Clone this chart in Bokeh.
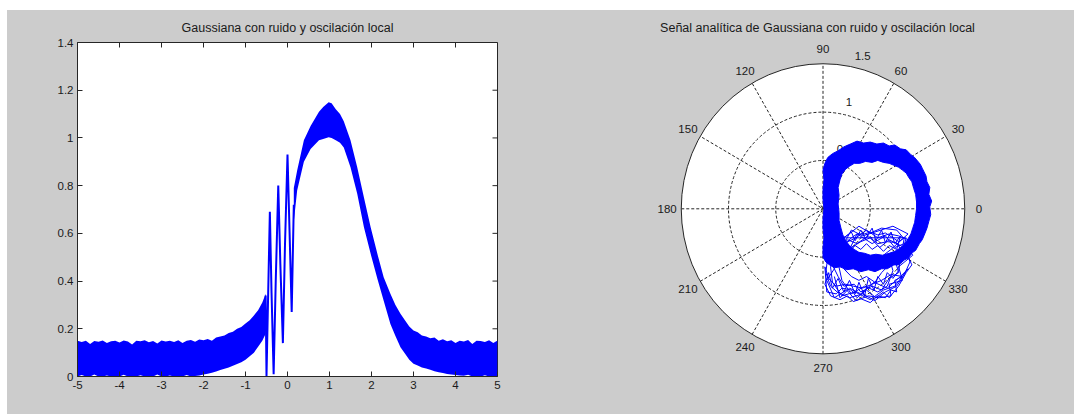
import numpy as np
from bokeh.plotting import figure
from bokeh.layouts import row, column
from bokeh.models import Spacer, FixedTicker, Range1d
from bokeh.embed import file_html
from bokeh.resources import INLINE
from bokeh.core.properties import value

# ---------------- data: left panel (signal vs t) ----------------
tail_t = [-5.0, -4.9, -4.8, -4.7, -4.6, -4.5, -4.4, -4.3, -4.2, -4.1,
          -4.0, -3.9, -3.8, -3.7, -3.6, -3.5, -3.4, -3.3, -3.2, -3.1,
          -3.0, -2.9, -2.8, -2.7, -2.6, -2.5, -2.4, -2.3, -2.2, -2.1,
          -2.0, -1.9, -1.8, -1.7, -1.6, -1.5, -1.4, -1.3, -1.2, -1.1,
          -1.0, -0.9, -0.8, -0.7, -0.6, -0.52]
tail_upper = [0.150, 0.145, 0.150, 0.136, 0.149, 0.146, 0.151, 0.140, 0.148, 0.150,
              0.143, 0.151, 0.147, 0.134, 0.150, 0.148, 0.152, 0.144, 0.149, 0.138,
              0.151, 0.147, 0.150, 0.145, 0.152, 0.140, 0.150, 0.153, 0.146, 0.155,
              0.152, 0.157, 0.150, 0.163, 0.168, 0.172, 0.182, 0.188, 0.200, 0.208,
              0.222, 0.236, 0.256, 0.278, 0.310, 0.347]
tail_lower = [0.0, 0.006, 0.0, 0.0, 0.008, 0.0, 0.0, 0.004, 0.0, 0.0,
              0.0, 0.007, 0.0, 0.0, 0.0, 0.005, 0.0, 0.0, 0.0, 0.008,
              0.0, 0.0, 0.004, 0.0, 0.0, 0.0, 0.006, 0.0, 0.002, 0.004,
              0.008, 0.012, 0.016, 0.021, 0.027, 0.032, 0.038, 0.045, 0.052, 0.060,
              0.070, 0.085, 0.100, 0.125, 0.150, 0.179]

bell_t = [0.15, 0.23, 0.39, 0.55, 0.75, 0.85, 0.98, 1.05, 1.15, 1.25, 1.34, 1.5, 1.66,
          1.82, 1.98, 2.14, 2.29, 2.45, 2.57, 2.69, 2.8, 2.9,
          3.0, 3.1, 3.2, 3.3, 3.4, 3.5, 3.6, 3.7, 3.8, 3.9,
          4.0, 4.1, 4.2, 4.3, 4.4, 4.5, 4.6, 4.7, 4.8, 4.9, 5.0]
bell_upper = [0.79, 0.863, 0.99, 1.05, 1.11, 1.13, 1.15, 1.145, 1.12, 1.10, 1.07, 0.99, 0.877,
              0.75, 0.626, 0.514, 0.416, 0.347, 0.30, 0.263, 0.235, 0.21,
              0.193, 0.185, 0.172, 0.168, 0.160, 0.163, 0.150, 0.156, 0.148, 0.152,
              0.140, 0.150, 0.147, 0.153, 0.136, 0.150, 0.149, 0.145, 0.152, 0.140, 0.151]
bell_lower = [0.65, 0.78, 0.90, 0.954, 0.99, 0.995, 1.003, 1.0, 0.99, 0.98, 0.96, 0.877, 0.766,
              0.626, 0.514, 0.41, 0.318, 0.22, 0.17, 0.123, 0.095, 0.07,
              0.053, 0.046, 0.038, 0.034, 0.028, 0.022, 0.018, 0.015, 0.010, 0.008,
              0.006, 0.004, 0.003, 0.007, 0.0, 0.002, 0.0, 0.005, 0.0, 0.0, 0.0]

osc_t = [-0.52, -0.50, -0.46, -0.42, -0.38, -0.33, -0.28, -0.22, -0.17, -0.11,
         -0.06, 0.0, 0.05, 0.10, 0.15]
osc_s = [0.34, 0.0, 0.35, 0.69, 0.35, 0.01, 0.40, 0.80, 0.47, 0.14,
         0.55, 0.93, 0.60, 0.27, 0.72]

x_ticks = [-5, -4, -3, -2, -1, 0, 1, 2, 3, 4, 5]
x_tick_labels = ["-5", "-4", "-3", "-2", "-1", "0", "1", "2", "3", "4", "5"]
y_ticks = [0, 0.2, 0.4, 0.6, 0.8, 1.0, 1.2, 1.4]
y_tick_labels = ["0", "0.2", "0.4", "0.6", "0.8", "1", "1.2", "1.4"]

# ---------------- data: right panel (analytic signal, real / imag) ----------------
ring_outer_re = [0.00, 0.03, 0.07, 0.12, 0.18, 0.25, 0.32, 0.40, 0.48, 0.55, 0.62, 0.68,
                 0.75, 0.80, 0.86, 0.90, 0.95, 0.98, 1.02, 1.05, 1.08, 1.10, 1.12, 1.14,
                 1.13, 1.15, 1.12, 1.13, 1.10, 1.09, 1.05, 1.03, 0.97, 0.93, 0.88, 0.82,
                 0.76, 0.70, 0.64, 0.57, 0.50, 0.43, 0.36, 0.29, 0.22, 0.16, 0.10, 0.05,
                 0.02, 0.00, 0.01, 0.00, 0.00, 0.01, 0.00, 0.00, 0.01, 0.00]
ring_outer_im = [-0.50, -0.55, -0.58, -0.61, -0.60, -0.63, -0.62, -0.65, -0.63, -0.65, -0.62, -0.62,
                 -0.58, -0.58, -0.53, -0.51, -0.45, -0.43, -0.36, -0.32, -0.25, -0.20, -0.13, -0.06,
                 0.02, 0.08, 0.15, 0.22, 0.28, 0.34, 0.42, 0.46, 0.53, 0.56, 0.61, 0.62,
                 0.66, 0.65, 0.68, 0.67, 0.69, 0.68, 0.70, 0.67, 0.64, 0.60, 0.57, 0.53,
                 0.47, 0.40, 0.30, 0.20, 0.10, 0.00, -0.10, -0.20, -0.30, -0.40]
ring_inner_re = [0.16, 0.17, 0.16, 0.18, 0.20, 0.24, 0.28, 0.33, 0.39, 0.45, 0.52, 0.58,
                 0.64, 0.70, 0.75, 0.80, 0.84, 0.88, 0.91, 0.94, 0.96, 0.98, 0.99, 0.99,
                 0.98, 0.97, 0.95, 0.93, 0.90, 0.86, 0.81, 0.76, 0.70, 0.63, 0.56, 0.50,
                 0.44, 0.38, 0.33, 0.28, 0.24, 0.21, 0.19, 0.17, 0.17]
ring_inner_im = [0.05, 0.14, 0.22, 0.30, 0.36, 0.41, 0.44, 0.47, 0.47, 0.49, 0.48, 0.50,
                 0.48, 0.47, 0.45, 0.43, 0.40, 0.37, 0.32, 0.28, 0.21, 0.15, 0.07, 0.00,
                 -0.07, -0.14, -0.20, -0.26, -0.31, -0.37, -0.41, -0.44, -0.46, -0.48, -0.47, -0.48,
                 -0.46, -0.45, -0.42, -0.38, -0.33, -0.27, -0.20, -0.12, -0.04]

cluster_re = [0.85, 0.78, 0.62, 0.50, 0.38, 0.25, 0.12, 0.05, 0.03, 0.08, 0.15, 0.28, 0.42, 0.55,
              0.66, 0.78, 0.86, 0.92, 0.88, 0.93,
              0.80, 0.70, 0.58, 0.46, 0.35, 0.22, 0.18, 0.10, 0.16, 0.22, 0.33, 0.40, 0.52,
              0.62, 0.70, 0.80, 0.76, 0.84, 0.78,
              0.68, 0.58, 0.50, 0.40, 0.30, 0.28, 0.22, 0.30, 0.38, 0.46, 0.55, 0.62, 0.68,
              0.64, 0.72,
              0.90, 0.74, 0.55, 0.42, 0.30, 0.20, 0.06, 0.12, 0.04, 0.12, 0.25, 0.35, 0.48,
              0.60, 0.72, 0.70, 0.84, 0.80, 0.95, 0.86,
              0.76, 0.66, 0.52, 0.36, 0.26, 0.16, 0.20, 0.30, 0.44, 0.58, 0.68, 0.74, 0.70,
              0.82, 0.88,
              0.22, 0.30, 0.34, 0.40, 0.45, 0.52, 0.56, 0.62, 0.66, 0.72, 0.76, 0.82, 0.78,
              0.70, 0.64, 0.58, 0.52, 0.46, 0.40, 0.34, 0.28, 0.24, 0.30, 0.36, 0.44, 0.50,
              0.58, 0.66, 0.74, 0.80, 0.86,
              0.80, 0.74, 0.68, 0.64, 0.58, 0.54, 0.48, 0.44, 0.38, 0.34, 0.28, 0.22, 0.16,
              0.10, 0.06, 0.02, 0.08, 0.18, 0.26, 0.32, 0.40, 0.50, 0.58, 0.66, 0.72, 0.78,
              0.76, 0.84, 0.72, 0.62, 0.52, 0.42, 0.32, 0.24, 0.14, 0.06, 0.02,
              0.04, 0.14, 0.20, 0.30, 0.36, 0.46, 0.56, 0.64, 0.70, 0.80, 0.88, 0.94,
              0.86, 0.70, 0.60, 0.48, 0.36, 0.26, 0.14, 0.08, 0.10, 0.20, 0.34, 0.50,
              0.64, 0.76, 0.90, 0.82, 0.68, 0.54, 0.40, 0.28, 0.18, 0.12]
cluster_im = [-0.30, -0.22, -0.20, -0.25, -0.18, -0.28, -0.35, -0.50, -0.66, -0.80, -0.86, -0.92,
              -0.88, -0.95, -0.86, -0.80, -0.68, -0.55, -0.42, -0.33,
              -0.28, -0.26, -0.30, -0.22, -0.30, -0.36, -0.48, -0.58, -0.70, -0.80, -0.78,
              -0.86, -0.80, -0.84, -0.72, -0.66, -0.52, -0.45, -0.35,
              -0.34, -0.36, -0.30, -0.34, -0.40, -0.52, -0.62, -0.70, -0.74, -0.70, -0.76,
              -0.66, -0.60, -0.48, -0.42,
              -0.26, -0.18, -0.24, -0.28, -0.22, -0.40, -0.44, -0.62, -0.74, -0.92, -0.84,
              -0.95, -0.90, -0.92, -0.90, -0.78, -0.74, -0.60, -0.48, -0.36,
              -0.40, -0.28, -0.36, -0.26, -0.46, -0.56, -0.74, -0.88, -0.80, -0.86, -0.80,
              -0.64, -0.50, -0.52, -0.30,
              -0.30, -0.24, -0.33, -0.22, -0.31, -0.20, -0.33, -0.22, -0.35, -0.24, -0.36, -0.28, -0.42,
              -0.38, -0.44, -0.38, -0.42, -0.36, -0.42, -0.38, -0.44, -0.36, -0.30, -0.26, -0.26, -0.24,
              -0.27, -0.25, -0.30, -0.34, -0.30,
              -0.64, -0.72, -0.66, -0.78, -0.70, -0.84, -0.72, -0.90, -0.76, -0.88, -0.74, -0.86, -0.72,
              -0.82, -0.66, -0.78, -0.90, -0.94, -0.90, -0.96, -0.93, -0.97, -0.90, -0.92, -0.84, -0.86,
              -0.74, -0.70, -0.68, -0.74, -0.78, -0.82, -0.80, -0.78, -0.80, -0.72, -0.60,
              -0.86, -0.88, -0.82, -0.84, -0.92, -0.84, -0.92, -0.86, -0.92, -0.80, -0.66, -0.58,
              -0.40, -0.32, -0.40, -0.28, -0.36, -0.32, -0.44, -0.60, -0.76, -0.90, -0.86, -0.94,
              -0.84, -0.80, -0.62, -0.70, -0.82, -0.76, -0.88, -0.82, -0.92, -0.70]

angle_ticks = [0, 30, 60, 90, 120, 150, 180, 210, 240, 270, 300, 330]
radius_ticks = [0.5, 1.0, 1.5]

TITLE_L = "Gaussiana con ruido y oscilación local"
TITLE_R = "Señal analítica de Gaussiana con ruido y oscilación local"

# ---------------- styling ----------------
FONT = "Liberation Sans"
FS = "11.5px"
FST = "12.5px"
BG = "#CCCCCC"
INK = "#1a1a1a"
AXC = "#262626"
BLUE = "#0000FF"
TOP, BOT, FH = 32, 38, 334


def style_title(p, offset=0):
    p.title.align = "center"
    p.title.text_font = FONT
    p.title.text_font_size = FST
    p.title.text_font_style = "normal"
    p.title.text_color = INK
    p.title.standoff = 15
    p.title.offset = offset


# ---------------- left figure ----------------
p1 = figure(title=TITLE_L, frame_width=420, frame_height=FH,
            x_range=Range1d(-5, 5), y_range=Range1d(0, 1.4),
            output_backend="svg", toolbar_location=None,
            min_border_left=70, min_border_right=63, min_border_top=TOP, min_border_bottom=BOT,
            background_fill_color="white", border_fill_color=BG, outline_line_color=AXC)
style_title(p1)
p1.xgrid.visible = False
p1.ygrid.visible = False

p1.xaxis.ticker = FixedTicker(ticks=x_ticks)
p1.xaxis.major_label_overrides = {t: l for t, l in zip(x_ticks, x_tick_labels)}
p1.yaxis.ticker = FixedTicker(ticks=y_ticks)
p1.yaxis.major_label_overrides = {t: l for t, l in zip(y_ticks, y_tick_labels)}
for ax in p1.axis:
    ax.major_tick_in = 5
    ax.major_tick_out = 0
    ax.minor_tick_in = 0
    ax.minor_tick_out = 0
    ax.axis_line_color = AXC
    ax.major_tick_line_color = AXC
    ax.major_label_text_font = FONT
    ax.major_label_text_font_size = FS
    ax.major_label_text_color = INK
    ax.major_label_standoff = 4

p1.ray(x=x_ticks, y=[y_ticks[-1]] * len(x_ticks), length=5, length_units="screen",
       angle=-np.pi / 2, line_color=AXC, line_width=1)
p1.ray(x=[x_ticks[-1]] * len(y_ticks), y=y_ticks, length=5, length_units="screen",
       angle=np.pi, line_color=AXC, line_width=1)

p1.varea(x=tail_t, y1=tail_lower, y2=tail_upper, fill_color=BLUE)
p1.varea(x=bell_t, y1=bell_lower, y2=bell_upper, fill_color=BLUE)
p1.line(x=osc_t, y=osc_s, line_color=BLUE, line_width=2)

# ---------------- right figure (polar) ----------------
rmax = radius_ticks[-1]
W2 = 514
cx, sx = 262.5, 94.5
cy, sy = 166.3, 96.7
p2 = figure(title=TITLE_R, frame_width=W2, frame_height=FH,
            x_range=Range1d(-cx / sx, (W2 - cx) / sx),
            y_range=Range1d(-(FH - cy) / sy, cy / sy),
            output_backend="svg", toolbar_location=None,
            min_border_left=0, min_border_right=0, min_border_top=TOP, min_border_bottom=BOT,
            x_axis_location=None, y_axis_location=None,
            background_fill_color=BG, border_fill_color=BG, outline_line_color=None)
style_title(p2, offset=5)
p2.xgrid.visible = False
p2.ygrid.visible = False

p2.ellipse(x=[0], y=[0], width=[2 * rmax], height=[2 * rmax], fill_color="white", line_color=None)
th = np.deg2rad(np.array(angle_ticks[:6]))
p2.segment(x0=-rmax * np.cos(th), y0=-rmax * np.sin(th), x1=rmax * np.cos(th), y1=rmax * np.sin(th),
           line_color=AXC, line_width=1, line_dash="3 2")
rr = np.array(radius_ticks[:-1])
p2.ellipse(x=[0] * len(rr), y=[0] * len(rr), width=2 * rr, height=2 * rr, fill_color=None,
           line_color=AXC, line_width=1, line_dash="3 2")
p2.ellipse(x=[0], y=[0], width=[2 * rmax], height=[2 * rmax], fill_color=None,
           line_color=AXC, line_width=1)
ath = np.deg2rad(np.array(angle_ticks))
p2.text(x=1.1 * rmax * np.cos(ath), y=1.1 * rmax * np.sin(ath), text=[str(a) for a in angle_ticks],
        text_align="center", text_baseline="middle", text_font=value(FONT),
        text_font_size=value(FS), text_color=INK)
rt = np.array(radius_ticks)
p2.text(x=rt * 0.19 + 0.05, y=rt * 0.97 + 0.13, text=[("%g" % r) for r in radius_ticks],
        text_align="left", text_baseline="middle", text_font=value(FONT),
        text_font_size=value(FS), text_color=INK)

p2.line(x=cluster_re, y=cluster_im, line_color=BLUE, line_width=1)
p2.multi_polygons(xs=[[[ring_outer_re, ring_inner_re]]], ys=[[[ring_outer_im, ring_inner_im]]],
                  fill_color=BLUE, line_color=BLUE, line_width=1)

plots = row(p1, p2, styles={"background-color": BG})
layout = column(Spacer(height=10), row(Spacer(width=7), plots))
open("out.html", "w").write(file_html(layout, INLINE))
